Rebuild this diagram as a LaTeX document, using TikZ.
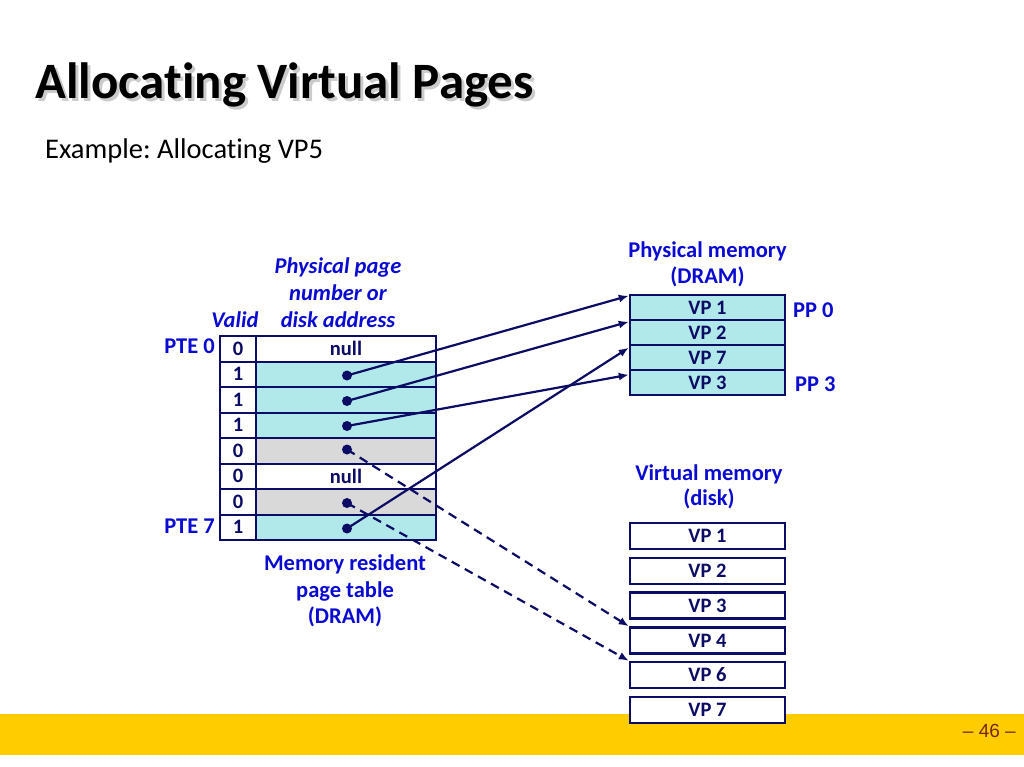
\documentclass[tikz,border=0pt]{standalone}
\usepackage{fontspec}
\setmainfont{Carlito}[Ligatures=NoCommon]
\newfontfamily\arialfont{Liberation Sans}
\usetikzlibrary{arrows.meta}
\definecolor{navy}{RGB}{12,12,100}
\definecolor{lblue}{RGB}{10,10,210}
\definecolor{cyanfill}{RGB}{177,232,234}
\definecolor{grayfill}{RGB}{217,217,217}
\definecolor{baryellow}{RGB}{255,204,0}
\definecolor{pagenum}{RGB}{120,40,10}
\frenchspacing
\begin{document}
\begin{tikzpicture}[x=1pt,y=-1pt,
  vcell/.style={draw=navy, line width=2pt, minimum width=36pt, minimum height=25.5pt, inner sep=0pt,
    font=\fontsize{20.5}{21}\selectfont\bfseries, text=navy},
  acell/.style={vcell, minimum width=180pt},
  pmcell/.style={draw=navy, line width=2.5pt, fill=cyanfill, minimum width=155pt, minimum height=25pt, inner sep=0pt,
    font=\fontsize{20.5}{21}\selectfont\bfseries, text=navy},
  vmcell/.style={pmcell, fill=white, minimum height=26pt},
  dot/.style={circle, fill=navy, inner sep=0pt, minimum size=10pt},
  lbl/.style={inner sep=0pt, text=lblue, font=\fontsize{22.5}{26}\selectfont\bfseries, align=center},
  ilbl/.style={lbl, font=\fontsize{22.5}{26}\selectfont\bfseries\itshape},
  arr/.style={draw=navy, line width=2.2pt, -{Latex[length=10pt,width=8pt]}},
  dasharr/.style={arr, dash pattern=on 9pt off 6pt}
]
\useasboundingbox (0,0) rectangle (1024,767);
\fill[white] (0,0) rectangle (1024,767);

% footer bar
\fill[baryellow] (0,714) rectangle (1024,755);
\node[inner sep=0pt, anchor=base east, text=pagenum, font=\arialfont\fontsize{19}{20}\selectfont] (pnum) at (1016,737) {– 46 –};

% title
\node[inner sep=0pt, anchor=base west, text=black!40, opacity=0.5, font=\fontsize{51}{60}\selectfont\bfseries] (tshadow) at (38,102) {Allocating Virtual Pages};
\node[inner sep=0pt, anchor=base west, text=black, font=\fontsize{51}{60}\selectfont\bfseries] (title) at (35,99) {Allocating Virtual Pages};
\node[inner sep=0pt, anchor=base west, text=black, font=\fontsize{28.5}{32}\selectfont] (sub) at (45,159) {Example: Allocating VP5};

% page table
\node[vcell] (v0) at (238,348.75) {0};
\node[vcell] (v1) at (238,374.25) {1};
\node[vcell] (v2) at (238,399.75) {1};
\node[vcell] (v3) at (238,425.25) {1};
\node[vcell] (v4) at (238,450.75) {0};
\node[vcell] (v5) at (238,476.25) {0};
\node[vcell] (v6) at (238,501.75) {0};
\node[vcell] (v7) at (238,527.25) {1};
\node[acell, fill=white] (a0) at (346,348.75) {null};
\node[acell, fill=cyanfill] (a1) at (346,374.25) {};
\node[acell, fill=cyanfill] (a2) at (346,399.75) {};
\node[acell, fill=cyanfill] (a3) at (346,425.25) {};
\node[acell, fill=grayfill] (a4) at (346,450.75) {};
\node[acell, fill=white] (a5) at (346,476.25) {null};
\node[acell, fill=grayfill] (a6) at (346,501.75) {};
\node[acell, fill=cyanfill] (a7) at (346,527.25) {};

\node[dot] (d1) at (347,375.5) {};
\node[dot] (d2) at (347,401) {};
\node[dot] (d3) at (347,426) {};
\node[dot] (d4) at (347,449.5) {};
\node[dot] (d6) at (347,503) {};
\node[dot] (d7) at (347,528.5) {};

% labels of the page table
\node[lbl, anchor=base east] (pte0) at (215,353) {PTE 0};
\node[lbl, anchor=base east] (pte7) at (215,533) {PTE 7};
\node[ilbl, anchor=base] (valid) at (235,327) {Valid};
\node[ilbl, anchor=base] (ppn1) at (338,273) {Physical page};
\node[ilbl, anchor=base] (ppn2) at (338,300) {number or};
\node[ilbl, anchor=base] (ppn3) at (338,327) {disk address};
\node[lbl, anchor=base] (mr1) at (345,570) {Memory resident};
\node[lbl, anchor=base] (mr2) at (345,597) {page table};
\node[lbl, anchor=base] (mr3) at (345,623) {(DRAM)};

% physical memory
\node[lbl, anchor=base] (pmt1) at (707.5,257) {Physical memory};
\node[lbl, anchor=base] (pmt2) at (707.5,283) {(DRAM)};
\node[pmcell] (pm0) at (707.5,307.5) {VP 1};
\node[pmcell] (pm1) at (707.5,332.5) {VP 2};
\node[pmcell] (pm2) at (707.5,357.5) {VP 7};
\node[pmcell] (pm3) at (707.5,382.5) {VP 3};
\node[lbl, anchor=base west] (pp0) at (793,317) {PP 0};
\node[lbl, anchor=base west] (pp3) at (795,391) {PP 3};

% virtual memory
\node[lbl, anchor=base] (vmt1) at (709,480) {Virtual memory};
\node[lbl, anchor=base] (vmt2) at (709,505) {(disk)};
\node[vmcell] (vm1) at (707.5,536) {VP 1};
\node[vmcell] (vm2) at (707.5,571) {VP 2};
\node[vmcell] (vm3) at (707.5,605.5) {VP 3};
\node[vmcell] (vm4) at (707.5,640.5) {VP 4};
\node[vmcell] (vm6) at (707.5,675) {VP 6};
\node[vmcell] (vm7) at (707.5,710) {VP 7};

% connectors
\draw[arr] (d1.center) -- ([yshift=-2pt]pm0.north west);
\draw[arr] (d2.center) -- ([yshift=-3pt]pm1.north west);
\draw[arr] (d3.center) -- ([yshift=-6pt]pm3.north west);
\draw[arr] (d7.center) -- ([yshift=-4pt]pm2.north west);
\draw[dasharr] (d4.center) -- (vm4.north west);
\draw[dasharr] (d6.center) -- (vm6.north west);
\end{tikzpicture}
\end{document}
